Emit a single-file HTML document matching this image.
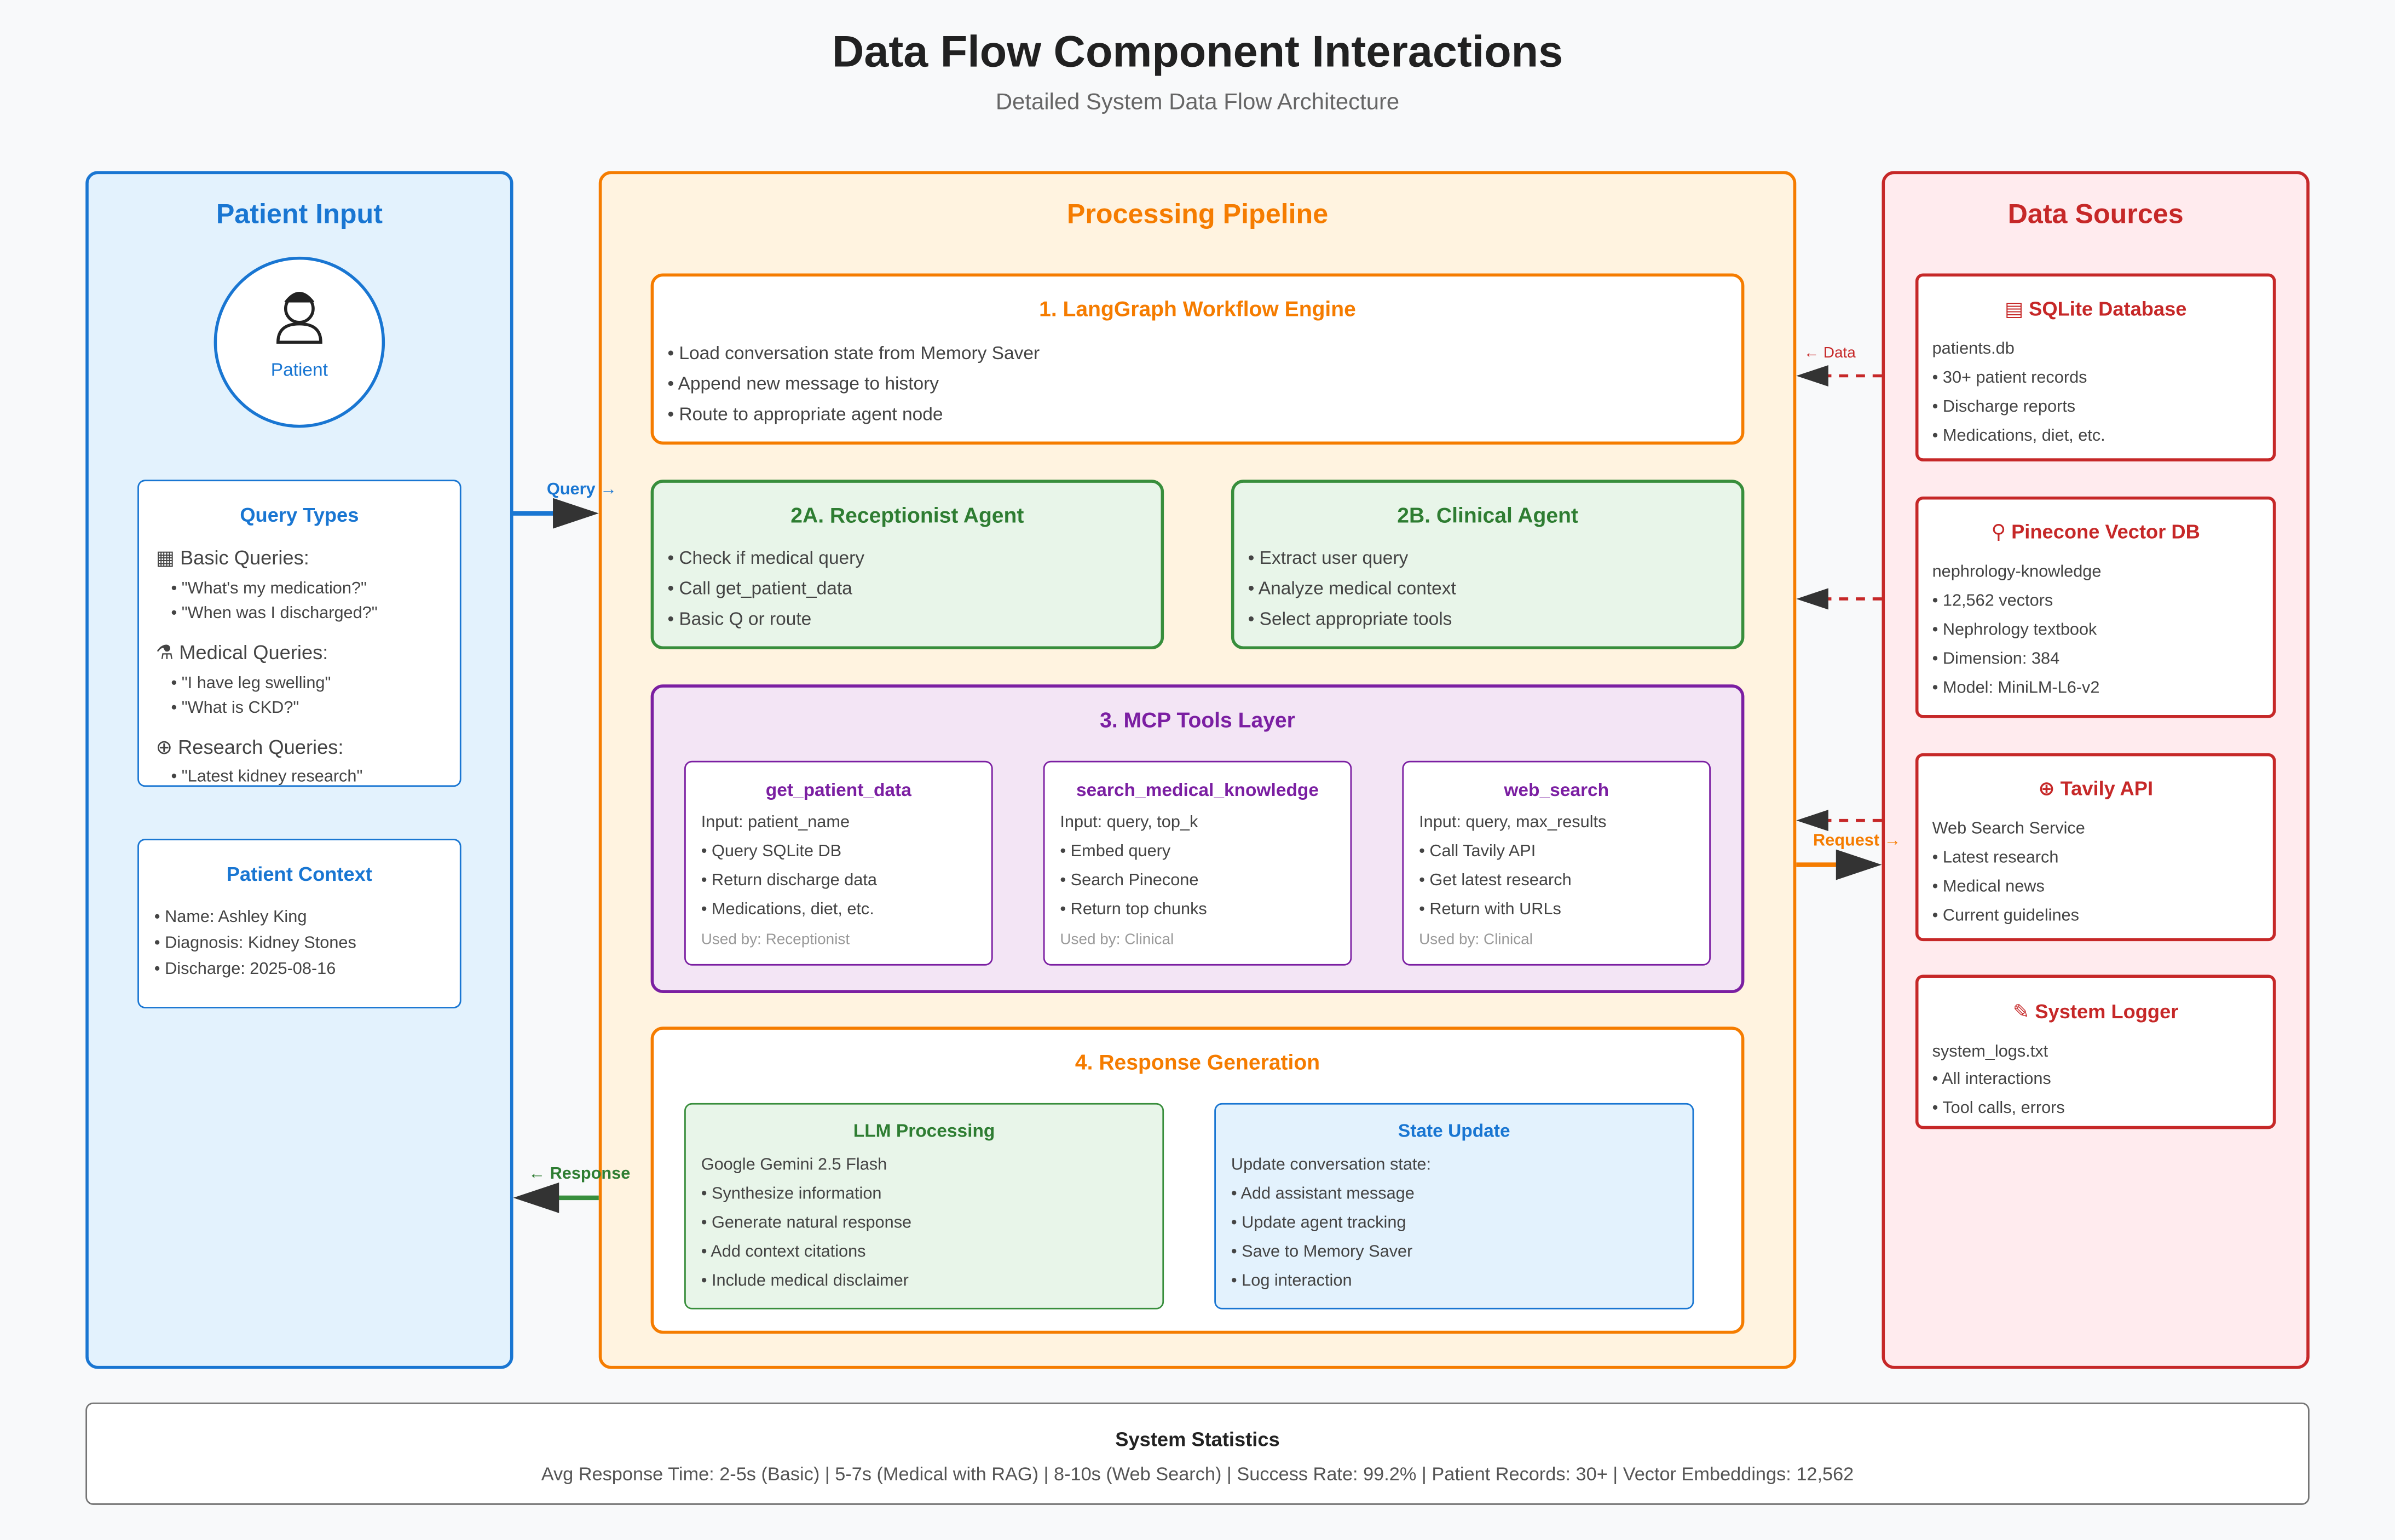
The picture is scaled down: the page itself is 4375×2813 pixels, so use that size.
<!DOCTYPE html>
<html><head><meta charset="utf-8"><style>
*{margin:0;padding:0;box-sizing:border-box}
html,body{width:4375px;height:2813px;overflow:hidden;background:#f8f9fa}
#w{position:absolute;left:0;top:0;width:1568px;height:1008px;transform:scale(2.7902,2.7907);transform-origin:0 0;font-family:"Liberation Sans","DejaVu Sans",sans-serif}
.b{position:absolute;border-radius:8px}
.t{position:absolute;white-space:nowrap;transform:translateY(-50%);line-height:1}
.c{text-align:center}
.g{color:#444}
svg{position:absolute;left:0;top:0}
</style></head><body><div id="w">
<div class="t c" style="left:0;width:1568px;top:35px;font-size:29px;font-weight:bold;color:#212121">Data Flow Component Interactions</div>
<div class="t c" style="left:0;width:1568px;top:67px;font-size:15px;color:#666">Detailed System Data Flow Architecture</div>

<div class="b" style="left:56px;top:112px;width:280px;height:784px;background:#e3f2fd;border:2px solid #1976d2"></div>
<div class="t c" style="left:56px;width:280px;top:140px;font-size:18px;font-weight:bold;color:#1976d2">Patient Input</div>
<div style="position:absolute;left:140px;top:168px;width:112px;height:112px;border-radius:50%;background:#fff;border:2px solid #1976d2"></div>
<svg width="1568" height="1008" style="pointer-events:none">
<g fill="none" stroke="#222" stroke-width="2">
<circle cx="196" cy="202" r="9" fill="#fff"/>
<path d="M187 198 Q196 186 205 198" fill="#222"/>
<path d="M182 224 Q182 212 196 212 Q210 212 210 224 Z" fill="#fff"/>
</g>
</svg>
<div class="t c" style="left:140px;width:112px;top:242px;font-size:12px;color:#1976d2">Patient</div>

<div class="b" style="left:90px;top:314px;width:212px;height:201px;background:#fff;border:1.5px solid #1976d2;border-radius:5px"></div>
<div class="t c" style="left:90px;width:212px;top:337px;font-size:13px;font-weight:bold;color:#1976d2">Query Types</div>
<div class="t g" style="left:102px;top:365px;font-size:13px">▦ Basic Queries:</div>
<div class="t g" style="left:112px;top:386px;font-size:11px">• "What's my medication?"</div>
<div class="t g" style="left:112px;top:402px;font-size:11px">• "When was I discharged?"</div>
<div class="t g" style="left:102px;top:427px;font-size:13px">⚗ Medical Queries:</div>
<div class="t g" style="left:112px;top:448px;font-size:11px">• "I have leg swelling"</div>
<div class="t g" style="left:112px;top:464px;font-size:11px">• "What is CKD?"</div>
<div class="t g" style="left:102px;top:489px;font-size:13px">⊕ Research Queries:</div>
<div class="t g" style="left:112px;top:509px;font-size:11px">• "Latest kidney research"</div>

<div class="b" style="left:90px;top:549px;width:212px;height:111px;background:#fff;border:1.5px solid #1976d2;border-radius:5px"></div>
<div class="t c" style="left:90px;width:212px;top:572px;font-size:13px;font-weight:bold;color:#1976d2">Patient Context</div>
<div class="t g" style="left:101px;top:601px;font-size:11px">• Name: Ashley King</div>
<div class="t g" style="left:101px;top:618px;font-size:11px">• Diagnosis: Kidney Stones</div>
<div class="t g" style="left:101px;top:635px;font-size:11px">• Discharge: 2025-08-16</div>

<div class="b" style="left:392px;top:112px;width:784px;height:784px;background:#fff3e0;border:2px solid #f57c00"></div>
<div class="t c" style="left:392px;width:784px;top:140px;font-size:18px;font-weight:bold;color:#f57c00">Processing Pipeline</div>

<div class="b" style="left:426px;top:179px;width:716px;height:112px;background:#fff;border:2px solid #f57c00"></div>
<div class="t c" style="left:426px;width:716px;top:202px;font-size:14px;font-weight:bold;color:#f57c00">1. LangGraph Workflow Engine</div>
<div class="t g" style="left:437px;top:231px;font-size:12px">• Load conversation state from Memory Saver</div>
<div class="t g" style="left:437px;top:251px;font-size:12px">• Append new message to history</div>
<div class="t g" style="left:437px;top:271px;font-size:12px">• Route to appropriate agent node</div>

<div class="b" style="left:426px;top:314px;width:336px;height:111px;background:#e8f5e9;border:2px solid #388e3c"></div>
<div class="t c" style="left:426px;width:336px;top:337px;font-size:14px;font-weight:bold;color:#2e7d32">2A. Receptionist Agent</div>
<div class="t g" style="left:437px;top:365px;font-size:12px">• Check if medical query</div>
<div class="t g" style="left:437px;top:385px;font-size:12px">• Call get_patient_data</div>
<div class="t g" style="left:437px;top:405px;font-size:12px">• Basic Q or route</div>

<div class="b" style="left:806px;top:314px;width:336px;height:111px;background:#e8f5e9;border:2px solid #388e3c"></div>
<div class="t c" style="left:806px;width:336px;top:337px;font-size:14px;font-weight:bold;color:#2e7d32">2B. Clinical Agent</div>
<div class="t g" style="left:817px;top:365px;font-size:12px">• Extract user query</div>
<div class="t g" style="left:817px;top:385px;font-size:12px">• Analyze medical context</div>
<div class="t g" style="left:817px;top:405px;font-size:12px">• Select appropriate tools</div>

<div class="b" style="left:426px;top:448px;width:716px;height:202px;background:#f3e5f5;border:2px solid #7b1fa2"></div>
<div class="t c" style="left:426px;width:716px;top:471px;font-size:14px;font-weight:bold;color:#7b1fa2">3. MCP Tools Layer</div>

<div class="b" style="left:448px;top:498px;width:202px;height:134px;background:#fff;border:1.2px solid #7b1fa2;border-radius:5px"></div>
<div class="t c" style="left:448px;width:202px;top:517px;font-size:12px;font-weight:bold;color:#7b1fa2">get_patient_data</div>
<div class="t g" style="left:459px;top:539px;font-size:11px">Input: patient_name</div>
<div class="t g" style="left:459px;top:558px;font-size:11px">• Query SQLite DB</div>
<div class="t g" style="left:459px;top:577px;font-size:11px">• Return discharge data</div>
<div class="t g" style="left:459px;top:596px;font-size:11px">• Medications, diet, etc.</div>
<div class="t" style="left:459px;top:616px;font-size:10px;color:#999">Used by: Receptionist</div>

<div class="b" style="left:683px;top:498px;width:202px;height:134px;background:#fff;border:1.2px solid #7b1fa2;border-radius:5px"></div>
<div class="t c" style="left:683px;width:202px;top:517px;font-size:12px;font-weight:bold;color:#7b1fa2">search_medical_knowledge</div>
<div class="t g" style="left:694px;top:539px;font-size:11px">Input: query, top_k</div>
<div class="t g" style="left:694px;top:558px;font-size:11px">• Embed query</div>
<div class="t g" style="left:694px;top:577px;font-size:11px">• Search Pinecone</div>
<div class="t g" style="left:694px;top:596px;font-size:11px">• Return top chunks</div>
<div class="t" style="left:694px;top:616px;font-size:10px;color:#999">Used by: Clinical</div>

<div class="b" style="left:918px;top:498px;width:202px;height:134px;background:#fff;border:1.2px solid #7b1fa2;border-radius:5px"></div>
<div class="t c" style="left:918px;width:202px;top:517px;font-size:12px;font-weight:bold;color:#7b1fa2">web_search</div>
<div class="t g" style="left:929px;top:539px;font-size:11px">Input: query, max_results</div>
<div class="t g" style="left:929px;top:558px;font-size:11px">• Call Tavily API</div>
<div class="t g" style="left:929px;top:577px;font-size:11px">• Get latest research</div>
<div class="t g" style="left:929px;top:596px;font-size:11px">• Return with URLs</div>
<div class="t" style="left:929px;top:616px;font-size:10px;color:#999">Used by: Clinical</div>

<div class="b" style="left:426px;top:672px;width:716px;height:201px;background:#fff;border:2px solid #f57c00"></div>
<div class="t c" style="left:426px;width:716px;top:695px;font-size:14px;font-weight:bold;color:#f57c00">4. Response Generation</div>

<div class="b" style="left:448px;top:722px;width:314px;height:135px;background:#e8f5e9;border:1.2px solid #388e3c;border-radius:5px"></div>
<div class="t c" style="left:448px;width:314px;top:740px;font-size:12px;font-weight:bold;color:#2e7d32">LLM Processing</div>
<div class="t g" style="left:459px;top:763px;font-size:11px">Google Gemini 2.5 Flash</div>
<div class="t g" style="left:459px;top:782px;font-size:11px">• Synthesize information</div>
<div class="t g" style="left:459px;top:801px;font-size:11px">• Generate natural response</div>
<div class="t g" style="left:459px;top:820px;font-size:11px">• Add context citations</div>
<div class="t g" style="left:459px;top:839px;font-size:11px">• Include medical disclaimer</div>

<div class="b" style="left:795px;top:722px;width:314px;height:135px;background:#e3f2fd;border:1.2px solid #1976d2;border-radius:5px"></div>
<div class="t c" style="left:795px;width:314px;top:740px;font-size:12px;font-weight:bold;color:#1976d2">State Update</div>
<div class="t g" style="left:806px;top:763px;font-size:11px">Update conversation state:</div>
<div class="t g" style="left:806px;top:782px;font-size:11px">• Add assistant message</div>
<div class="t g" style="left:806px;top:801px;font-size:11px">• Update agent tracking</div>
<div class="t g" style="left:806px;top:820px;font-size:11px">• Save to Memory Saver</div>
<div class="t g" style="left:806px;top:839px;font-size:11px">• Log interaction</div>

<div class="b" style="left:1232px;top:112px;width:280px;height:784px;background:#ffebee;border:2px solid #c62828"></div>
<div class="t c" style="left:1232px;width:280px;top:140px;font-size:18px;font-weight:bold;color:#c62828">Data Sources</div>

<div class="b" style="left:1254px;top:179px;width:236px;height:123px;background:#fff;border:2px solid #c62828;border-radius:5px"></div>
<div class="t c" style="left:1254px;width:236px;top:202px;font-size:13px;font-weight:bold;color:#c62828">▤ SQLite Database</div>
<div class="t g" style="left:1265px;top:229px;font-size:11px">patients.db</div>
<div class="t g" style="left:1265px;top:248px;font-size:11px">• 30+ patient records</div>
<div class="t g" style="left:1265px;top:267px;font-size:11px">• Discharge reports</div>
<div class="t g" style="left:1265px;top:286px;font-size:11px">• Medications, diet, etc.</div>

<div class="b" style="left:1254px;top:325px;width:236px;height:145px;background:#fff;border:2px solid #c62828;border-radius:5px"></div>
<div class="t c" style="left:1254px;width:236px;top:348px;font-size:13px;font-weight:bold;color:#c62828">⚲ Pinecone Vector DB</div>
<div class="t g" style="left:1265px;top:375px;font-size:11px">nephrology-knowledge</div>
<div class="t g" style="left:1265px;top:394px;font-size:11px">• 12,562 vectors</div>
<div class="t g" style="left:1265px;top:413px;font-size:11px">• Nephrology textbook</div>
<div class="t g" style="left:1265px;top:432px;font-size:11px">• Dimension: 384</div>
<div class="t g" style="left:1265px;top:451px;font-size:11px">• Model: MiniLM-L6-v2</div>

<div class="b" style="left:1254px;top:493px;width:236px;height:123px;background:#fff;border:2px solid #c62828;border-radius:5px"></div>
<div class="t c" style="left:1254px;width:236px;top:516px;font-size:13px;font-weight:bold;color:#c62828">⊕ Tavily API</div>
<div class="t g" style="left:1265px;top:543px;font-size:11px">Web Search Service</div>
<div class="t g" style="left:1265px;top:562px;font-size:11px">• Latest research</div>
<div class="t g" style="left:1265px;top:581px;font-size:11px">• Medical news</div>
<div class="t g" style="left:1265px;top:600px;font-size:11px">• Current guidelines</div>

<div class="b" style="left:1254px;top:638px;width:236px;height:101px;background:#fff;border:2px solid #c62828;border-radius:5px"></div>
<div class="t c" style="left:1254px;width:236px;top:662px;font-size:13px;font-weight:bold;color:#c62828">✎ System Logger</div>
<div class="t g" style="left:1265px;top:689px;font-size:11px">system_logs.txt</div>
<div class="t g" style="left:1265px;top:707px;font-size:11px">• All interactions</div>
<div class="t g" style="left:1265px;top:726px;font-size:11px">• Tool calls, errors</div>

<div class="b" style="left:56px;top:918px;width:1456px;height:67px;background:#fff;border:1px solid #757575;border-radius:5px"></div>
<div class="t c" style="left:56px;width:1456px;top:942px;font-size:13px;font-weight:bold;color:#222">System Statistics</div>
<div class="t c" style="left:56px;width:1456px;top:965px;font-size:12.3px;color:#555">Avg Response Time: 2-5s (Basic) | 5-7s (Medical with RAG) | 8-10s (Web Search) | Success Rate: 99.2% | Patient Records: 30+ | Vector Embeddings: 12,562</div>

<svg width="1568" height="1008">
<line x1="336" y1="336" x2="364" y2="336" stroke="#1976d2" stroke-width="3"/>
<polygon points="362,326 392,336 362,346" fill="#333"/>
<line x1="392" y1="784" x2="364" y2="784" stroke="#388e3c" stroke-width="3"/>
<polygon points="366,774 336,784 366,794" fill="#333"/>
<g stroke="#c62828" stroke-width="2" stroke-dasharray="6,5">
<line x1="1232" y1="246" x2="1196" y2="246"/>
<line x1="1232" y1="392" x2="1196" y2="392"/>
<line x1="1232" y1="537" x2="1196" y2="537"/>
</g>
<g fill="#333">
<polygon points="1197,239 1176,246 1197,253"/>
<polygon points="1197,385 1176,392 1197,399"/>
<polygon points="1197,530 1176,537 1197,544"/>
</g>
<line x1="1176" y1="566" x2="1205" y2="566" stroke="#f57c00" stroke-width="3"/>
<polygon points="1202,556 1232,566 1202,576" fill="#333"/>
</svg>
<div class="t" style="left:358px;top:321px;font-size:11px;font-weight:bold;color:#1976d2">Query <span style="font-weight:normal">→</span></div>
<div class="t" style="left:346px;top:769px;font-size:11px;font-weight:bold;color:#2e7d32"><span style="font-weight:normal">←</span> Response</div>
<div class="t" style="left:1181px;top:232px;font-size:10px;color:#c62828">← Data</div>
<div class="t" style="left:1187px;top:551px;font-size:11px;font-weight:bold;color:#f57c00">Request <span style="font-weight:normal">→</span></div>
</div></body></html>
